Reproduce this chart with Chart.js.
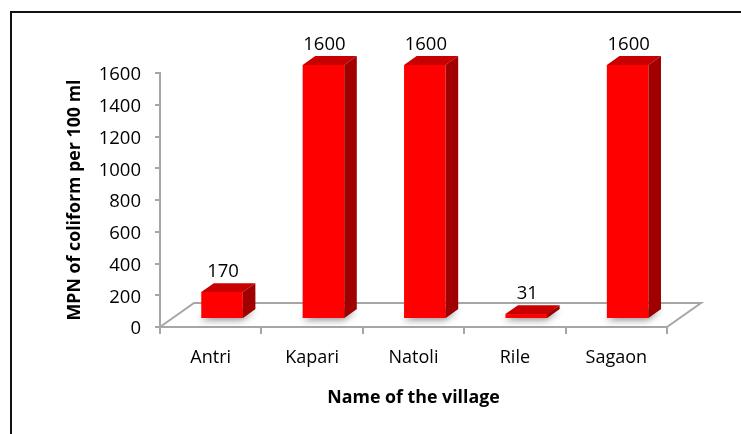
<!DOCTYPE html>
<html><head><meta charset="utf-8">
<script src="https://cdn.jsdelivr.net/npm/chart.js@4.4.1/dist/chart.umd.min.js"></script>
<style>html,body{margin:0;padding:0;background:#fff;overflow:hidden}canvas{display:block}</style>
</head><body>
<canvas id="c" width="741" height="434"></canvas>
<script>
const villages = ['Antri', 'Kapari', 'Natoli', 'Rile', 'Sagaon'];
const mpnValues = [170, 1600, 1600, 31, 1600];
const yTickValues = [0, 200, 400, 600, 800, 1000, 1200, 1400, 1600];
const yTitle = 'MPN of coliform per 100 ml';
const xTitle = 'Name of the village';

const FONT = 'Open Sans';

const threeD = {
  id: 'threeD',
  beforeDraw(chart) {
    const ctx = chart.ctx;
    ctx.save();
    ctx.fillStyle = '#fff';
    ctx.fillRect(0, 0, chart.width, chart.height);
    ctx.strokeStyle = '#111';
    ctx.lineWidth = 2;
    ctx.beginPath();
    ctx.moveTo(11, chart.height + 2);
    ctx.lineTo(11, 12);
    ctx.lineTo(chart.width + 2, 12);
    ctx.stroke();
    ctx.restore();
  },
  beforeDatasetsDraw(chart, args, o) {
    const {ctx, chartArea: {left, right, bottom}} = chart;
    ctx.save();
    ctx.strokeStyle = '#a6a6a6';
    ctx.lineWidth = 2;
    ctx.beginPath();
    ctx.moveTo(left, bottom);
    ctx.lineTo(left + o.dx, bottom - o.dy);
    ctx.lineTo(right + o.dx, bottom - o.dy);
    ctx.lineTo(right, bottom);
    ctx.stroke();
    ctx.restore();
  },
  afterDatasetsDraw(chart, args, o) {
    const ctx = chart.ctx;
    const meta = chart.getDatasetMeta(0);
    const ox = o.dx / 3, oy = o.dy / 3;
    const bx = o.dx * 0.37, by = o.dy * 0.37;
    const geo = meta.data.map(bar => {
      const p = bar.getProps(['x', 'y', 'base', 'width'], true);
      return {
        x0: p.x - p.width / 2 + ox, x1: p.x + p.width / 2 + ox,
        t: p.y - oy, b: p.base - oy
      };
    });
    ctx.save();
    geo.forEach(g => {
      ctx.save();
      ctx.shadowColor = 'rgba(0,0,0,0.45)';
      ctx.shadowBlur = 7;
      ctx.shadowOffsetX = -1;
      ctx.shadowOffsetY = 2;
      ctx.fillStyle = '#888';
      ctx.beginPath();
      ctx.moveTo(g.x0, g.b);
      ctx.lineTo(g.x1, g.b);
      ctx.lineTo(g.x1 + bx, g.b - by);
      ctx.lineTo(g.x0 + bx, g.b - by);
      ctx.closePath();
      ctx.fill();
      ctx.restore();
    });
    geo.forEach((g, i) => {
      ctx.fillStyle = '#ff0000';
      ctx.fillRect(g.x0, g.t, g.x1 - g.x0, g.b - g.t);
      ctx.fillStyle = '#c80000';
      ctx.beginPath();
      ctx.moveTo(g.x0, g.t);
      ctx.lineTo(g.x0 + bx, g.t - by);
      ctx.lineTo(g.x1 + bx, g.t - by);
      ctx.lineTo(g.x1, g.t);
      ctx.closePath();
      ctx.fill();
      ctx.fillStyle = '#a00000';
      ctx.beginPath();
      ctx.moveTo(g.x1, g.t);
      ctx.lineTo(g.x1 + bx, g.t - by);
      ctx.lineTo(g.x1 + bx, g.b - by);
      ctx.lineTo(g.x1, g.b);
      ctx.closePath();
      ctx.fill();
      ctx.fillStyle = '#000';
      ctx.font = '18.5px "' + FONT + '"';
      ctx.textAlign = 'center';
      ctx.textBaseline = 'alphabetic';
      ctx.fillText(String(mpnValues[i]), (g.x0 + g.x1) / 2 + 1, g.t - by - 6);
    });
    ctx.restore();
  }
};

function build() {
  new Chart(document.getElementById('c'), {
    type: 'bar',
    data: {
      labels: villages,
      datasets: [{
        data: mpnValues,
        backgroundColor: 'rgba(0,0,0,0)',
        borderWidth: 0,
        barPercentage: 0.41,
        categoryPercentage: 1
      }]
    },
    plugins: [threeD],
    options: {
      responsive: false,
      animation: false,
      events: [],
      layout: {padding: {top: 73, right: 74, bottom: 0, left: 0}},
      plugins: {
        legend: {display: false},
        tooltip: {enabled: false},
        threeD: {dx: 34, dy: 24}
      },
      scales: {
        x: {
          ticks: {font: {family: FONT, size: 18}, color: '#000', padding: 13},
          grid: {display: true, drawOnChartArea: false, drawTicks: true, tickLength: 7, color: '#a6a6a6', lineWidth: 2, offset: true},
          border: {display: true, color: '#a6a6a6', width: 2},
          title: {display: true, text: xTitle, color: '#000', font: {family: FONT, size: 17.8, weight: 'bold'}, padding: {top: 0, bottom: 25}},
          afterFit(s) { s.height = 107; }
        },
        y: {
          min: 0, max: 1600,
          afterBuildTicks(s) { s.ticks = yTickValues.map(v => ({value: v})); },
          ticks: {font: {family: FONT, size: 18.5}, color: '#000', padding: 14, labelOffset: 2,
                  callback: v => String(v)},
          grid: {display: true, drawOnChartArea: false, drawTicks: true, tickLength: 5, color: '#a6a6a6', lineWidth: 2},
          border: {display: true, color: '#a6a6a6', width: 2},
          title: {display: true, text: yTitle, color: '#000', font: {family: FONT, size: 17.8, weight: 'bold'}, padding: {top: 64, bottom: 0}},
          afterFit(s) { s.width = 160; }
        }
      }
    }
  });
}
Promise.all([
  document.fonts.load('18px "Open Sans"'),
  document.fonts.load('bold 18px "Open Sans"')
]).then(build, build);
</script>
</body></html>
